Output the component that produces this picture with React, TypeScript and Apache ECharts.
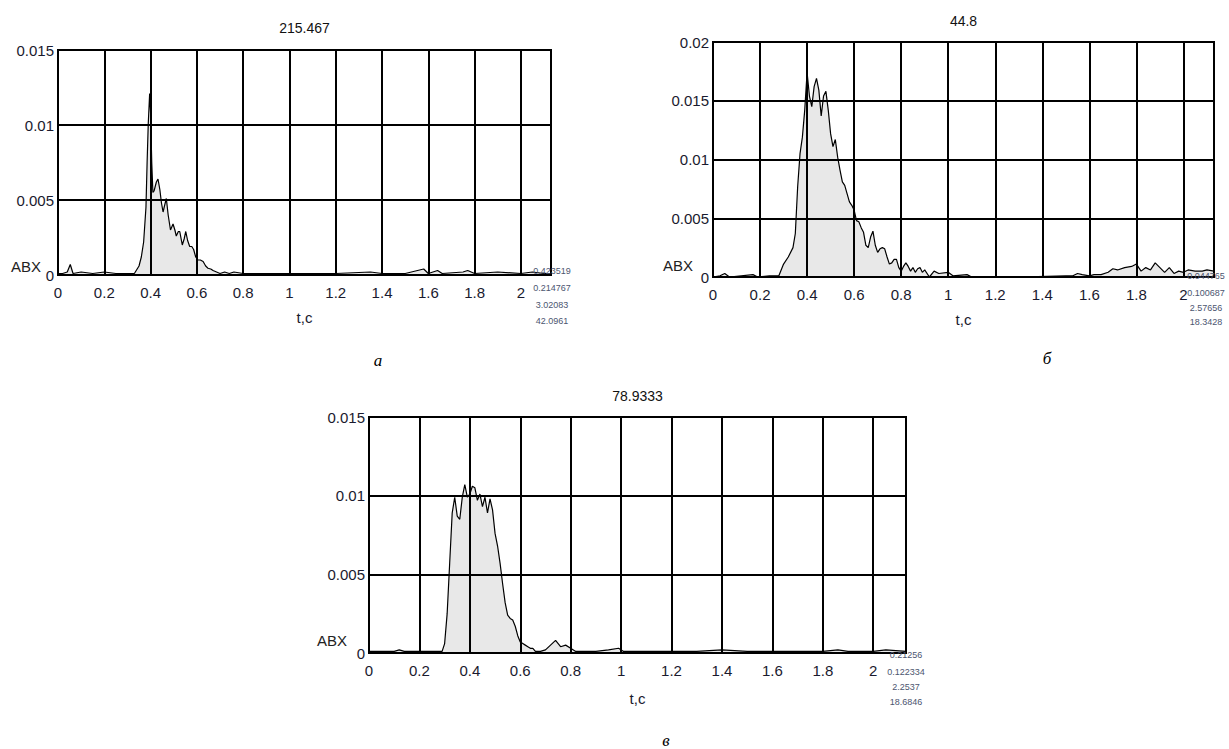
import React, { useEffect, useRef } from "react";
import * as echarts from "echarts";

// ---------- data ----------
const titles = ["215.467", "44.8", "78.9333"];
const captions = ["а", "б", "в"];
const xMax = 2.13;
const yMaxes = [0.015, 0.02, 0.015];

const tA = [0, 0.02, 0.04, 0.053, 0.065, 0.1, 0.15, 0.2, 0.25, 0.3, 0.33, 0.35, 0.36, 0.37, 0.38, 0.385, 0.39, 0.396, 0.4, 0.405, 0.41, 0.415, 0.425, 0.432, 0.44, 0.447, 0.454, 0.46, 0.468, 0.476, 0.486, 0.497, 0.505, 0.511, 0.52, 0.526, 0.537, 0.545, 0.552, 0.56, 0.569, 0.578, 0.586, 0.595, 0.605, 0.615, 0.627, 0.638, 0.648, 0.66, 0.67, 0.685, 0.7, 0.72, 0.74, 0.76, 0.8, 0.9, 1.0, 1.1, 1.2, 1.35, 1.4, 1.5, 1.58, 1.6, 1.64, 1.66, 1.75, 1.77, 1.8, 1.9, 2.0, 2.05, 2.1, 2.13];
const vA = [0.0001, 0.0001, 0.0002, 0.0007, 0.0001, 0.0002, 0.0001, 0.0002, 0.0001, 0.0001, 0.0001, 0.0006, 0.0012, 0.0022, 0.0045, 0.0075, 0.0101, 0.0121, 0.0108, 0.0075, 0.0055, 0.0056, 0.0062, 0.0064, 0.0057, 0.0048, 0.0042, 0.0046, 0.0051, 0.004, 0.003, 0.0034, 0.003, 0.0026, 0.0029, 0.0029, 0.002, 0.0024, 0.0029, 0.0023, 0.0019, 0.0019, 0.0017, 0.0012, 0.001, 0.001, 0.0009, 0.0006, 0.00045, 0.0004, 0.0003, 0.0002, 0.0001, 0.0002, 0.0001, 0.0002, 0.0001, 0.0001, 0.0001, 0.0001, 0.0001, 0.0002, 0.0001, 0.0001, 0.0004, 0.0001, 0.0003, 0.0001, 0.0002, 0.0003, 0.0001, 0.0002, 0.0001, 0.0002, 0.0001, 0.0001];

const tB = [0, 0.03, 0.05, 0.07, 0.17, 0.19, 0.24, 0.28, 0.3, 0.32, 0.34, 0.35, 0.36, 0.37, 0.38, 0.39, 0.4, 0.41, 0.42, 0.43, 0.44, 0.45, 0.46, 0.47, 0.48, 0.49, 0.5, 0.51, 0.52, 0.53, 0.54, 0.55, 0.56, 0.57, 0.58, 0.59, 0.6, 0.61, 0.62, 0.63, 0.64, 0.65, 0.66, 0.67, 0.68, 0.69, 0.7, 0.71, 0.72, 0.73, 0.74, 0.75, 0.76, 0.77, 0.78, 0.79, 0.8, 0.81, 0.82, 0.83, 0.84, 0.85, 0.86, 0.87, 0.88, 0.89, 0.9, 0.92, 0.94, 0.96, 1.0, 1.02, 1.08, 1.1, 1.3, 1.5, 1.53, 1.55, 1.57, 1.6, 1.62, 1.65, 1.68, 1.7, 1.72, 1.75, 1.78, 1.8, 1.82, 1.84, 1.86, 1.88, 1.9, 1.92, 1.94, 1.96, 1.98, 2.0, 2.02, 2.05, 2.08, 2.1, 2.13];
const vB = [0, 0.0001, 0.0003, 0, 0.0002, 0, 0.0001, 0.0001, 0.0011, 0.0017, 0.0025, 0.0037, 0.0077, 0.0105, 0.0119, 0.0142, 0.0174, 0.0154, 0.0145, 0.0162, 0.0169, 0.0159, 0.0137, 0.0154, 0.0158, 0.0142, 0.0122, 0.0111, 0.0117, 0.0102, 0.0091, 0.0081, 0.0078, 0.0071, 0.0064, 0.0061, 0.0057, 0.0048, 0.0047, 0.0042, 0.0038, 0.0027, 0.0025, 0.0034, 0.0039, 0.0027, 0.0021, 0.0024, 0.0025, 0.0024, 0.0017, 0.0011, 0.0012, 0.0015, 0.0015, 0.0008, 0.0005, 0.0009, 0.0012, 0.0009, 0.0005, 0.0008, 0.0004, 0.0007, 0.0008, 0.0004, 0.0006, 0, 0.0005, 0.0003, 0.0004, 0.0001, 0.0002, 0, 0, 0.0001, 0.0001, 0.0003, 0.0002, 0.0001, 0.0002, 0.0002, 0.0004, 0.0007, 0.0006, 0.0008, 0.0009, 0.0011, 0.0005, 0.0008, 0.0006, 0.0012, 0.0008, 0.0004, 0.0008, 0.0003, 0.0005, 0.0004, 0.0006, 0.0005, 0.0005, 0.0006, 0.0005];

const tC = [0, 0.05, 0.1, 0.12, 0.14, 0.2, 0.25, 0.29, 0.3, 0.31, 0.32, 0.33, 0.34, 0.35, 0.36, 0.37, 0.38, 0.39, 0.4, 0.41, 0.42, 0.43, 0.44, 0.45, 0.46, 0.47, 0.48, 0.49, 0.5, 0.51, 0.52, 0.53, 0.54, 0.55, 0.56, 0.57, 0.58, 0.59, 0.6, 0.61, 0.62, 0.63, 0.64, 0.65, 0.66, 0.68, 0.7, 0.72, 0.74, 0.76, 0.78, 0.8, 0.82, 0.85, 0.9, 0.95, 0.99, 1.01, 1.1, 1.2, 1.3, 1.4, 1.5, 1.6, 1.7, 1.8, 1.86, 1.9, 2.0, 2.05, 2.13];
const vC = [0.0001, 0.0001, 0.0001, 0.0002, 0.0001, 0.0001, 0.0001, 0.0001, 0.0006, 0.0025, 0.0057, 0.0089, 0.0099, 0.0087, 0.0085, 0.0099, 0.0107, 0.0099, 0.0101, 0.0106, 0.0105, 0.0097, 0.0101, 0.0093, 0.0099, 0.0089, 0.0098, 0.0091, 0.0076, 0.0068, 0.0057, 0.0044, 0.0032, 0.0024, 0.0022, 0.0021, 0.0017, 0.0011, 0.0007, 0.0006, 0.0005, 0.0004, 0.0003, 0.0003, 0.0001, 0.0001, 0.0002, 0.0005, 0.0008, 0.0004, 0.0005, 0.0003, 0.0001, 0.0001, 0.0001, 0.0002, 0.0003, 0.0001, 0.0001, 0.0001, 0.0001, 0.0002, 0.0001, 0.0001, 0.0001, 0.0001, 0.0002, 0.0001, 0.0001, 0.0002, 0.0001];

const statsA = ["0.423519", "0.214767", "3.02083", "42.0961"];
const statsB = ["0.044765", "0.100687", "2.57656", "18.3428"];
const statsC = ["0.21256", "0.122334", "2.2537", "18.6846"];

// ---------- layout ----------
const F = '"Liberation Sans", Arial, sans-serif';
const grids = [
  { left: 58, top: 50, width: 493, height: 225 },
  { left: 713, top: 42, width: 501, height: 235 },
  { left: 369, top: 417, width: 537, height: 236 },
];
const titleCenterY = [29, 22, 397];
const statsX = [552, 1206, 906];
const statsY = [
  [271, 288, 305, 321],
  [276, 293, 308, 322],
  [655, 672, 687, 702],
];
const abxPos = [
  { x: 26, y: 266 },
  { x: 678, y: 265 },
  { x: 332, y: 640 },
];
const captionPos = [
  { x: 378, y: 360 },
  { x: 1047, y: 358 },
  { x: 666, y: 740 },
];

export default function App() {
  const ref = useRef<HTMLDivElement>(null);
  useEffect(() => {
    if (!ref.current) return;
    const chart = echarts.init(ref.current, null, { renderer: "svg" });
    const series = [
      [tA, vA],
      [tB, vB],
      [tC, vC],
    ];
    const stats = [statsA, statsB, statsC];
    const graphic: any[] = [];
    grids.forEach((g, i) => {
      graphic.push({
        type: "text",
        x: abxPos[i].x,
        y: abxPos[i].y,
        style: { text: "ABX", font: `15px ${F}`, fill: "#222", align: "center", verticalAlign: "middle" },
        z: 10,
      });
      stats[i].forEach((s, k) => {
        graphic.push({
          type: "text",
          x: statsX[i],
          y: statsY[i][k],
          style: {
            text: s,
            font: `9px "Liberation Sans", Arial, sans-serif`,
            fill: "#4c5570",
            align: "center",
            verticalAlign: "middle",
          },
          z: 10,
        });
      });
      graphic.push({
        type: "text",
        x: captionPos[i].x,
        y: captionPos[i].y,
        style: {
          text: captions[i],
          font: `italic 17px "Liberation Serif", "Times New Roman", serif`,
          fill: "#000",
          align: "center",
          verticalAlign: "middle",
        },
      });
    });
    const option: any = {
      animation: false,
      backgroundColor: "#fff",
      title: grids.map((g, i) => ({
        text: titles[i],
        left: g.left + g.width / 2,
        top: titleCenterY[i] - 8,
        padding: 0,
        textAlign: "center",
        textStyle: { fontSize: 14, fontWeight: "normal", fontFamily: F, color: "#111" },
      })),
      grid: grids.map((g) => ({
        ...g,
        show: true,
        borderColor: "#000",
        borderWidth: 2,
        backgroundColor: "#fff",
      })),
      xAxis: grids.map((g, i) => ({
        gridIndex: i,
        type: "value",
        min: 0,
        max: xMax,
        interval: 0.2,
        axisLine: { show: true, onZero: false, lineStyle: { color: "#000", width: 2 } },
        axisTick: { show: false },
        splitLine: { show: true, lineStyle: { color: "#000", width: 2 } },
        axisLabel: {
          showMaxLabel: false,
          margin: 10,
          fontSize: 15,
          fontFamily: F,
          color: "#1a1a2e",
          formatter: (v: number) => String(+v.toFixed(1)),
        },
        name: "t,c",
        nameLocation: "middle",
        nameGap: i === 2 ? 45 : 42,
        nameTextStyle: { fontSize: 15, fontFamily: F, color: "#1a1a2e", verticalAlign: "middle" },
      })),
      yAxis: grids.map((g, i) => ({
        gridIndex: i,
        type: "value",
        min: 0,
        max: yMaxes[i],
        interval: 0.005,
        axisLine: { show: true, lineStyle: { color: "#000", width: 2 } },
        axisTick: { show: false },
        splitLine: { show: true, lineStyle: { color: "#000", width: 2 } },
        axisLabel: {
          margin: 4,
          fontSize: 15,
          fontFamily: F,
          color: "#1a1a2e",
          formatter: (v: number) => String(+v.toFixed(3)),
        },
      })),
      series: series.map(([t, v], i) => ({
        type: "line",
        xAxisIndex: i,
        yAxisIndex: i,
        data: t.map((x, k) => [x, v[k]]),
        showSymbol: false,
        lineStyle: { color: "#000", width: 1.2 },
        areaStyle: { color: "rgba(0,0,0,0.09)", opacity: 1 },
        z: 3,
      })),
      graphic,
    };
    chart.setOption(option);
    return () => chart.dispose();
  }, []);
  return (
    <div
      ref={ref}
      style={{ position: "absolute", left: 0, top: 0, width: 1229, height: 749 }}
    />
  );
}
